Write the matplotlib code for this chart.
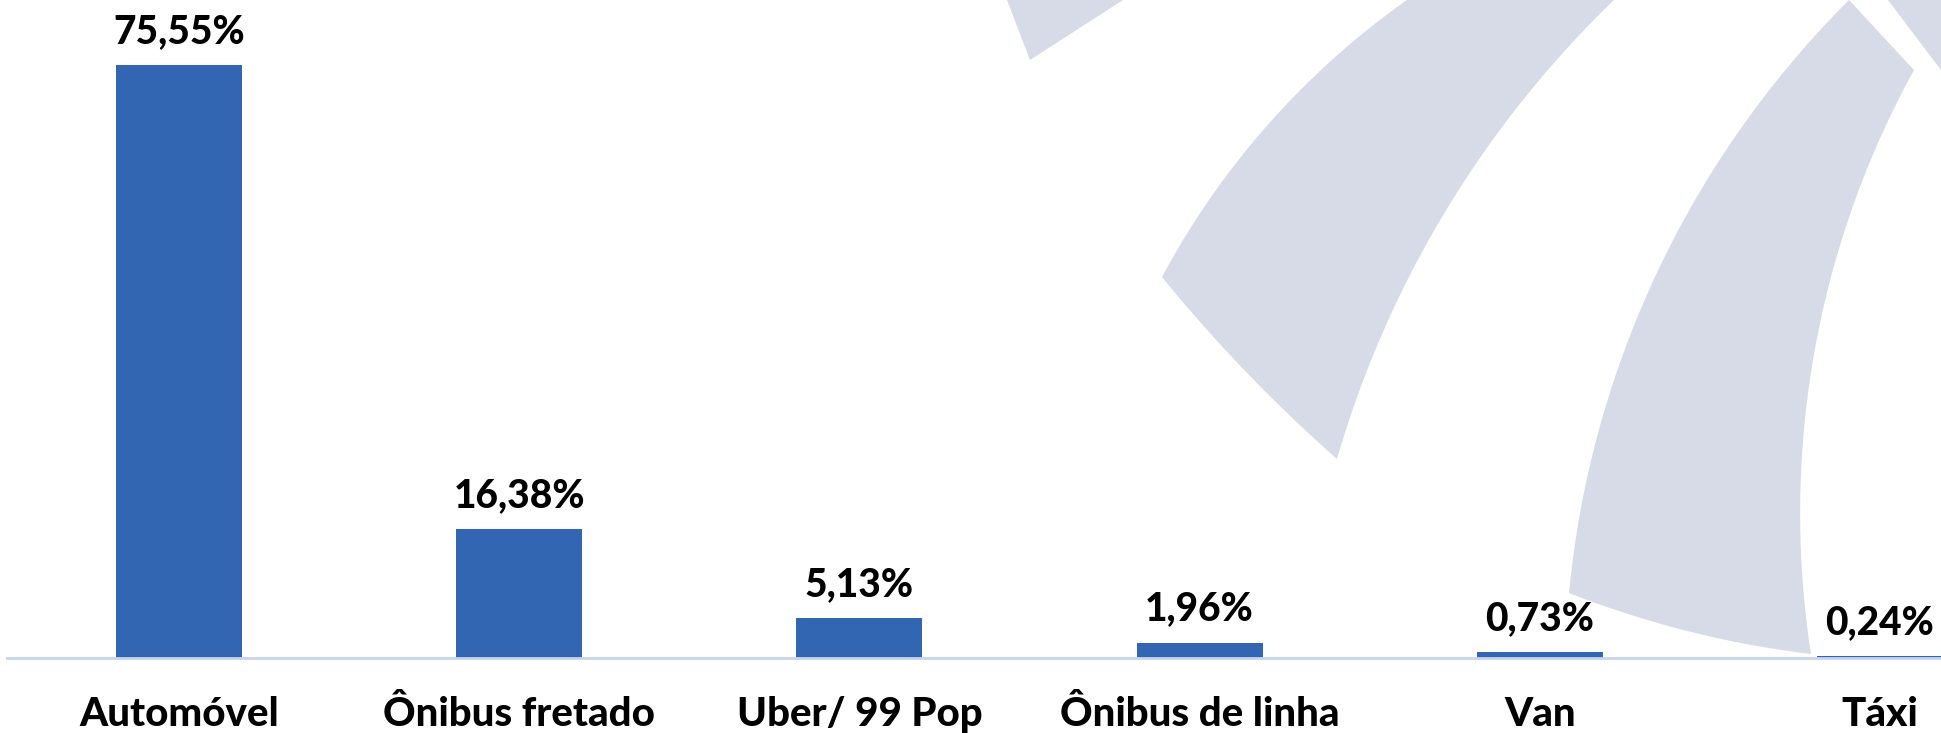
import numpy as np
import matplotlib
matplotlib.use("Agg")
import matplotlib.pyplot as plt
from matplotlib.patches import Polygon

categories = ["Automóvel", "Ônibus fretado", "Uber/ 99 Pop", "Ônibus de linha", "Van", "Táxi"]
values = [75.55, 16.38, 5.13, 1.96, 0.73, 0.24]
value_labels = ["75,55%", "16,38%", "5,13%", "1,96%", "0,73%", "0,24%"]

W, H = 1941, 733
DPI = 100
fig = plt.figure(figsize=(W / DPI, H / DPI), dpi=DPI)
fig.patch.set_facecolor("white")


def arc3(p1, p2, p3, n=40):
    """Points on the circle through p1, p2, p3, from p1 to p3 via p2."""
    (x1, y1), (x2, y2), (x3, y3) = p1, p2, p3
    d = 2 * (x1 * (y2 - y3) + x2 * (y3 - y1) + x3 * (y1 - y2))
    ux = ((x1**2 + y1**2) * (y2 - y3) + (x2**2 + y2**2) * (y3 - y1) + (x3**2 + y3**2) * (y1 - y2)) / d
    uy = ((x1**2 + y1**2) * (x3 - x2) + (x2**2 + y2**2) * (x1 - x3) + (x3**2 + y3**2) * (x2 - x1)) / d
    r = np.hypot(x1 - ux, y1 - uy)
    a1 = np.arctan2(y1 - uy, x1 - ux)
    a2 = np.arctan2(y2 - uy, x2 - ux)
    a3 = np.arctan2(y3 - uy, x3 - ux)
    # choose direction that passes through a2
    def norm(a):
        return (a - a1) % (2 * np.pi)
    if norm(a2) < norm(a3):
        ang = a1 + np.linspace(0, norm(a3), n)
    else:
        ang = a1 - np.linspace(0, 2 * np.pi - norm(a3), n)
    return list(zip(ux + r * np.cos(ang), uy + r * np.sin(ang)))


# background watermark (decorative logo shapes), in pixel coordinates
bg = fig.add_axes([0, 0, 1, 1], zorder=0)
bg.set_xlim(0, W)
bg.set_ylim(H, 0)
bg.axis("off")
wm_color = "#d7dbe8"
band1 = (arc3((1407, 0), (1233, 167), (1162, 277))
         + arc3((1162, 277), (1250, 376), (1337, 459))
         + arc3((1337, 459), (1445, 212), (1614, 0)))
band2 = (arc3((1849, 0), (1668, 250), (1569, 593))
         + arc3((1569, 593), (1708, 636), (1811, 654))
         + arc3((1811, 654), (1812, 366), (1914, 70)))
shapes = [
    [(1007, 0), (1030, 60), (1123, 0)],
    band1,
    band2,
    [(1888, 0), (1941, 0), (1941, 70)],
]
for s in shapes:
    bg.add_patch(Polygon(s, closed=True, facecolor=wm_color, edgecolor="none"))

# main axes
left_px, base_px = 7, 658
centre0, step = 179, 340.2
px_per_unit = 7.85
ax = fig.add_axes([left_px / W, 1 - base_px / H, 1 - left_px / W, base_px / H], zorder=1)
ax.patch.set_alpha(0)
x = list(range(len(categories)))
ax.bar(x, values, width=126 / step, color="#3366b2", zorder=2)
ax.set_xlim((left_px - centre0) / step, (W - centre0) / step)
ax.set_ylim(0, base_px / px_per_unit)
for sp in ["top", "left", "right"]:
    ax.spines[sp].set_visible(False)
ax.spines["bottom"].set_color("#c6d4ee")
ax.spines["bottom"].set_linewidth(2)
ax.set_xticks([])
ax.set_yticks([])

font = ["Lato", "DejaVu Sans"]
for xi, v, lab in zip(x, values, value_labels):
    ax.annotate(lab, (xi, v), xytext=(0, 22 * 72 / DPI), textcoords="offset points",
                ha="center", va="baseline", fontsize=28, fontweight="black",
                family=font, color="black", annotation_clip=False)
for xi, c in zip(x, categories):
    ax.annotate(c, (xi, 0), xytext=(0, -68 * 72 / DPI), textcoords="offset points",
                ha="center", va="baseline", fontsize=29, fontweight="black",
                family=font, color="black", annotation_clip=False)

fig.savefig("out.png", dpi=DPI)
